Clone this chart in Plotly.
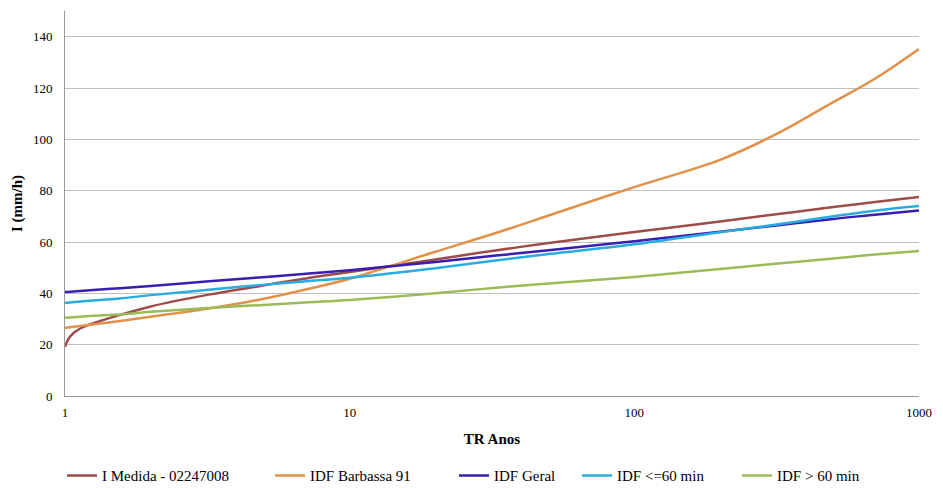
import plotly.graph_objects as go

# Return period (years)
tr = [1, 1.04, 1.13, 1.33, 1.56, 2, 3.2, 4.8, 7.2, 10, 20, 32, 50, 100, 200, 320, 500, 700, 1000]

i_medida = [19.2, 23.1, 26.3, 29.2, 31.6, 34.9, 39.5, 42.8, 46.0, 48.3, 53.2, 56.6, 59.6, 63.9, 68.0, 70.9, 73.6, 75.6, 77.5]
idf_barbassa = [26.6, 26.8, 27.3, 28.2, 29.2, 30.9, 34.1, 37.5, 41.8, 45.7, 56.2, 63.2, 70.3, 81.4, 92.0, 102.4, 114.5, 123.6, 135.2]
idf_geral = [40.5, 40.6, 40.9, 41.5, 42.0, 42.9, 44.7, 46.2, 47.7, 49.0, 52.2, 54.6, 56.8, 60.3, 64.0, 66.5, 69.0, 70.6, 72.3]
idf_le60 = [36.3, 36.4, 36.8, 37.4, 38.0, 39.3, 41.4, 43.2, 44.8, 46.1, 49.8, 52.7, 55.3, 59.1, 63.8, 66.9, 70.0, 72.2, 74.0]
idf_gt60 = [30.5, 30.6, 30.9, 31.4, 31.8, 32.8, 34.3, 35.4, 36.5, 37.4, 40.0, 42.1, 43.8, 46.4, 49.5, 51.6, 53.6, 55.1, 56.5]

series = [
    ("I Medida - 02247008", i_medida, "#9E4B49"),
    ("IDF Barbassa 91", idf_barbassa, "#E0924A"),
    ("IDF Geral", idf_geral, "#3A1DB2"),
    ("IDF <=60 min", idf_le60, "#2AACE0"),
    ("IDF > 60 min", idf_gt60, "#9BBB59"),
]
legend_left_px = [70, 278, 462, 585, 745]

x_ticks = [1, 10, 100, 1000]
y_ticks = [0, 20, 40, 60, 80, 100, 120, 140]

font = "Liberation Serif, DejaVu Serif, Noto Serif, serif"

fig = go.Figure()
legends = {}
for k, (name, vals, color) in enumerate(series):
    lg = "legend" if k == 0 else f"legend{k + 1}"
    fig.add_trace(go.Scatter(
        x=tr, y=vals, name=name, mode="lines", legend=lg,
        line=dict(color=color, width=2.5, shape="spline", smoothing=1.0),
    ))
    legends[lg] = dict(
        orientation="h", xref="container", x=(legend_left_px[k] - 8) / 943, xanchor="left",
        yref="container", y=0.025, yanchor="middle",
        font=dict(family=font, size=15, color="#000000"),
        itemwidth=30, bgcolor="rgba(0,0,0,0)",
    )

fig.update_layout(
    width=943, height=488,
    margin=dict(l=65, r=21, t=11, b=92),
    paper_bgcolor="white", plot_bgcolor="white",
    font=dict(family=font, size=13, color="#000000"),
    showlegend=True,
    xaxis=dict(
        type="log", range=[0, 3],
        tickvals=x_ticks, ticktext=[str(v) for v in x_ticks],
        showgrid=False, zeroline=False,
        showline=True, linecolor="#9a9a9a", linewidth=1,
        ticks="", ticklen=0, ticklabelstandoff=4,
        tickfont=dict(family=font, size=13),
        title=dict(text="<b>TR Anos</b>", font=dict(family=font, size=15), standoff=14),
    ),
    yaxis=dict(
        range=[0, 150],
        tickvals=y_ticks,
        showgrid=True, gridcolor="#c0c0c0", gridwidth=1,
        zeroline=False,
        showline=True, linecolor="#9a9a9a", linewidth=1,
        ticks="", ticklen=0, ticklabelstandoff=9,
        tickfont=dict(family=font, size=13),
        title=dict(text="<b>I (mm/h)</b>", font=dict(family=font, size=15), standoff=6),
    ),
    **legends,
)

fig.write_html("out.html")
